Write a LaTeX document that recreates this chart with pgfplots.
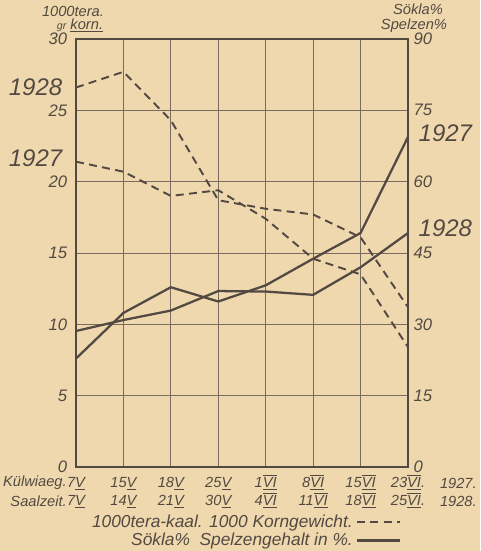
\documentclass[border=0pt]{standalone}
\usepackage{pgfplots}
\pgfplotsset{compat=1.18}
\usepackage{fontspec}
\setmainfont{Liberation Sans}
\definecolor{paper}{RGB}{240,216,174}
\definecolor{ink}{RGB}{82,74,66}
\definecolor{gridc}{RGB}{120,108,95}
\newcommand\V{\smash{$\underline{\mbox{V}}$}}
\newcommand\VI{\smash{$\underline{\overline{\mbox{VI}}}$}}
\begin{document}
\begin{tikzpicture}[font=\itshape, text=ink]
\begin{scope}[x=0.75pt,y=-0.75pt,xshift=-57pt,yshift=350.25pt]
\fill[paper] (0,0) rectangle (480,551);
\end{scope}
\begin{axis}[
  scale only axis, width=249pt, height=321pt,
  xmin=0, xmax=7, ymin=0, ymax=30,
  xtick={0,...,7}, ytick={0,5,...,30},
  xticklabels={{7\V\\7\V},{15\V\\14\V},{18\V\\21\V},{25\V\\30\V},{1\VI\\4\VI},{8\VI\\11\VI},{15\VI\\18\VI},{23\VI.\\25\VI.}},
  xticklabel style={align=center, font=\fontsize{11}{13.5}\selectfont\itshape, text=ink, inner sep=0pt, yshift=-7.5pt},
  yticklabel style={font=\fontsize{12.5}{13}\selectfont\itshape, text=ink, inner sep=1pt, xshift=-5.5pt},
  /pgf/number format/assume math mode=true,
  grid=major, major grid style={gridc, line width=0.55pt},
  axis line style={ink, line width=1.6pt},
  tick style={draw=none},
  legend plot pos=right, legend cell align=right,
  legend style={at={(0.98,-0.105)}, anchor=north east, draw=none, fill=none,
    font=\fontsize{13}{13.5}\selectfont\itshape, text=ink, row sep=-1pt, inner sep=0pt},
  legend image code/.code={\draw[#1] (0pt,0pt) -- (32pt,0pt);},
]
\addplot[ink, line width=1.45pt, dash pattern=on 6pt off 4pt] coordinates {(0,26.6)(1,27.7)(2,24.3)(3,18.7)(4,18.1)(5,17.7)(6,16.1)(7,11.2)};
\addlegendentry{1000tera-kaal. 1000 Korngewicht.}
\addplot[ink, line width=1.45pt, dash pattern=on 6pt off 4pt, forget plot] coordinates {(0,21.4)(1,20.7)(2,19.0)(3,19.4)(4,17.4)(5,14.6)(6,13.5)(7,8.4)};
\addlegendimage{ink, line width=2.2pt}
\addlegendentry{Sökla\% \ Spelzengehalt in \%.}
\end{axis}
\begin{axis}[
  scale only axis, width=249pt, height=321pt,
  xmin=0, xmax=7, ymin=0, ymax=90,
  axis x line=none, axis y line*=right,
  ytick={0,15,...,90},
  yticklabel style={font=\fontsize{12.5}{13}\selectfont\itshape, text=ink, inner sep=1pt, xshift=3pt},
  /pgf/number format/assume math mode=true,
  axis line style={draw=none}, tick style={draw=none},
]
\addplot[ink, line width=1.7pt] coordinates {(0,22.8)(1,32.4)(2,37.8)(3,34.8)(4,38.2)(5,43.8)(6,49.2)(7,69.4)};
\addplot[ink, line width=1.7pt] coordinates {(0,28.6)(1,30.9)(2,32.9)(3,37.0)(4,36.9)(5,36.2)(6,42.0)(7,49.2)};
\end{axis}
\begin{scope}[x=0.75pt,y=-0.75pt,xshift=-57pt,yshift=350.25pt]
\node[anchor=east, font=\fontsize{18}{18}\selectfont\itshape] at (67,87) {1928};
\node[anchor=east, font=\fontsize{18}{18}\selectfont\itshape] at (67,158) {1927};
\node[anchor=west, font=\fontsize{18}{18}\selectfont\itshape] at (414,133) {1927};
\node[anchor=west, font=\fontsize{18}{18}\selectfont\itshape] at (414,228) {1928};
\node[font=\fontsize{11}{11}\selectfont\itshape, inner sep=0pt] at (73,11) {1000tera.};
\node[font=\fontsize{11}{11}\selectfont\itshape, inner sep=0pt] at (80,25.5) {{\fontsize{8}{8}\selectfont gr} \underline{korn.}};
\node[font=\fontsize{11}{11}\selectfont\itshape, inner sep=0pt] at (418,9.5) {Sökla\%};
\node[font=\fontsize{11}{11}\selectfont\itshape, inner sep=0pt] at (414,26) {Spelzen\%};
\node[anchor=east, font=\fontsize{11}{11}\selectfont\itshape, inner sep=0pt] at (67,483) {Külwiaeg.};
\node[anchor=east, font=\fontsize{11}{11}\selectfont\itshape, inner sep=0pt] at (67,501) {Saalzeit.};
\node[anchor=east, font=\fontsize{11}{11}\selectfont\itshape, inner sep=0pt] at (477,483) {1927.};
\node[anchor=east, font=\fontsize{11}{11}\selectfont\itshape, inner sep=0pt] at (477,501) {1928.};
\pgfresetboundingbox
\path[use as bounding box] (0,0) rectangle (480,551);
\end{scope}
\end{tikzpicture}
\end{document}
